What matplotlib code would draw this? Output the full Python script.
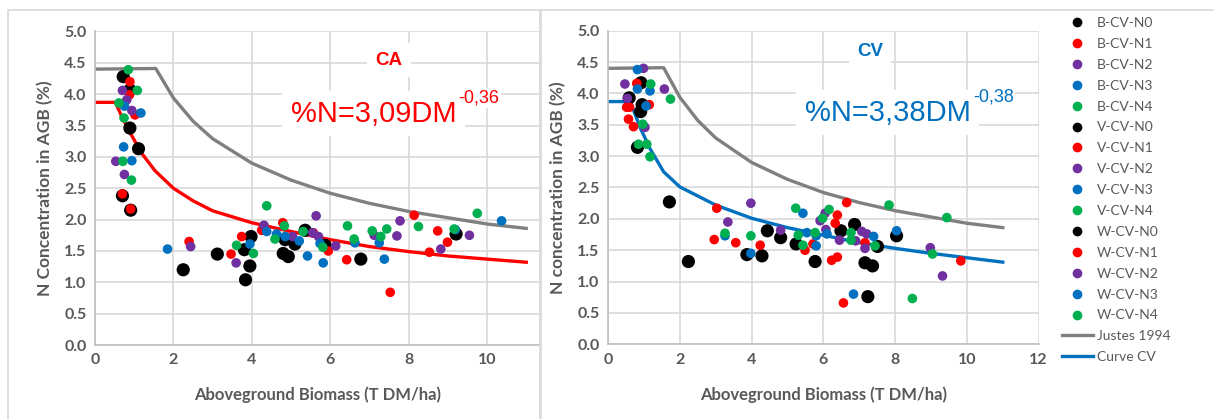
import numpy as np
import matplotlib.pyplot as plt
from matplotlib.lines import Line2D
from matplotlib.patches import Rectangle

# --- datos ---
n_levels = ['N0', 'N1', 'N2', 'N3', 'N4']
sites = ['B', 'V', 'W']
n_colors = ['#000000', '#FF0000', '#7030A0', '#0070C0', '#00B050']

# Panel CA
ca_n0_x = [0.72, 0.89, 0.89, 1.11, 0.70, 0.91, 2.25, 3.12, 3.81, 3.98, 3.95, 3.84, 4.80, 4.93, 5.10, 5.36, 5.87, 6.78, 9.21, 4.85]
ca_n0_y = [4.28, 4.07, 3.46, 3.13, 2.38, 2.15, 1.20, 1.45, 1.52, 1.73, 1.26, 1.04, 1.46, 1.41, 1.61, 1.83, 1.59, 1.37, 1.77, 1.68]
ca_n1_x = [0.89, 0.88, 1.02, 0.70, 0.91, 2.40, 3.47, 3.74, 4.25, 4.79, 5.57, 5.95, 6.42, 7.53, 8.14, 8.74, 8.99, 8.53]
ca_n1_y = [4.20, 3.99, 3.67, 2.41, 2.17, 1.65, 1.45, 1.73, 1.83, 1.95, 1.79, 1.50, 1.36, 0.84, 2.07, 1.82, 1.64, 1.48]
ca_n2_x = [0.70, 0.81, 0.94, 0.53, 0.75, 2.44, 3.60, 4.31, 5.04, 5.64, 5.55, 5.70, 6.14, 7.12, 7.70, 7.78, 8.82, 9.55]
ca_n2_y = [4.06, 3.91, 3.74, 2.93, 2.72, 1.57, 1.31, 1.91, 1.73, 2.06, 1.79, 1.73, 1.58, 1.75, 1.74, 1.98, 1.53, 1.75]
ca_n3_x = [0.75, 1.17, 0.73, 0.94, 1.85, 3.95, 4.38, 4.63, 4.85, 5.21, 5.42, 5.74, 5.82, 6.63, 7.25, 7.38, 9.19, 10.37]
ca_n3_y = [3.81, 3.70, 3.16, 2.94, 1.53, 1.61, 1.81, 1.77, 1.73, 1.66, 1.42, 1.62, 1.31, 1.63, 1.63, 1.37, 1.84, 1.98]
ca_n4_x = [0.85, 1.08, 0.61, 0.74, 0.71, 0.93, 3.61, 4.04, 4.38, 4.83, 4.59, 5.31, 5.81, 6.44, 6.61, 7.07, 7.29, 7.44, 8.25, 9.16, 9.75]
ca_n4_y = [4.39, 4.06, 3.86, 3.62, 2.93, 2.63, 1.59, 1.46, 2.22, 1.90, 1.69, 1.81, 1.56, 1.90, 1.69, 1.82, 1.73, 1.85, 1.89, 1.85, 2.10]

# Panel CV
cv_n0_x = [0.92, 0.59, 0.95, 0.91, 0.82, 1.71, 2.24, 3.87, 4.29, 4.44, 4.81, 5.24, 5.77, 6.49, 6.87, 7.51, 7.16, 7.37, 8.04, 7.24]
cv_n0_y = [4.17, 3.93, 3.82, 3.71, 3.14, 2.27, 1.32, 1.43, 1.41, 1.81, 1.70, 1.60, 1.32, 1.81, 1.91, 1.56, 1.30, 1.25, 1.73, 0.76]
cv_n1_x = [0.80, 0.52, 0.60, 1.15, 0.57, 0.71, 3.03, 2.96, 3.56, 4.24, 5.49, 5.71, 6.33, 6.39, 6.65, 6.23, 6.39, 6.56, 7.16, 9.83]
cv_n1_y = [4.16, 3.78, 3.78, 3.82, 3.59, 3.47, 2.17, 1.67, 1.62, 1.58, 1.50, 1.60, 1.93, 2.06, 2.26, 1.34, 1.39, 0.66, 1.62, 1.33]
cv_n2_x = [0.99, 0.47, 0.54, 1.57, 1.03, 3.34, 3.98, 4.81, 5.91, 6.05, 6.07, 6.45, 7.07, 7.21, 6.90, 7.16, 8.98, 9.32]
cv_n2_y = [4.40, 4.15, 3.92, 4.07, 3.46, 1.95, 2.25, 1.82, 1.97, 2.09, 1.83, 1.66, 1.80, 1.76, 1.65, 1.53, 1.54, 1.09]
cv_n3_x = [0.82, 0.82, 1.17, 1.06, 3.26, 3.98, 5.43, 5.54, 5.80, 5.80, 6.10, 6.84, 7.40, 8.04]
cv_n3_y = [4.38, 4.07, 4.04, 3.80, 1.73, 1.45, 2.09, 1.78, 1.73, 1.57, 1.76, 0.80, 1.72, 1.81]
cv_n4_x = [1.19, 1.74, 0.97, 0.85, 1.08, 1.17, 3.26, 3.98, 5.23, 5.30, 5.43, 5.77, 5.98, 6.16, 6.77, 6.77, 7.44, 7.83, 9.44, 9.04, 8.48]
cv_n4_y = [4.15, 3.91, 3.51, 3.19, 3.19, 2.99, 1.77, 1.73, 2.17, 1.74, 1.58, 1.78, 2.01, 2.15, 1.78, 1.66, 1.57, 2.22, 2.02, 1.44, 0.73]

# Curvas
justes_x = [0, 1.55, 2, 2.5, 3, 4, 5, 6, 7, 8, 9, 10, 11]
justes_y = [4.40, 4.41, 3.94, 3.57, 3.29, 2.90, 2.63, 2.42, 2.26, 2.13, 2.03, 1.93, 1.86]
ca_curve_x = [0, 0.52, 0.7, 0.9, 1.2, 1.53, 2, 2.5, 3, 4, 5, 6, 7, 8, 9, 10, 11]
ca_curve_y = [3.87, 3.87, 3.62, 3.38, 3.05, 2.78, 2.50, 2.30, 2.14, 1.95, 1.81, 1.68, 1.57, 1.49, 1.42, 1.37, 1.32]
cv_curve_x = [0, 0.62, 0.9, 1.17, 1.55, 2, 3, 4, 5, 6, 7, 8, 9, 10, 11]
cv_curve_y = [3.87, 3.87, 3.45, 3.12, 2.75, 2.51, 2.22, 2.01, 1.86, 1.74, 1.62, 1.53, 1.45, 1.38, 1.31]

ca_points = [(ca_n0_x, ca_n0_y), (ca_n1_x, ca_n1_y), (ca_n2_x, ca_n2_y), (ca_n3_x, ca_n3_y), (ca_n4_x, ca_n4_y)]
cv_points = [(cv_n0_x, cv_n0_y), (cv_n1_x, cv_n1_y), (cv_n2_x, cv_n2_y), (cv_n3_x, cv_n3_y), (cv_n4_x, cv_n4_y)]

gris_texto = '#595959'
fuente = 'Lato'

W, H = 1214, 419
fig = plt.figure(figsize=(W / 100, H / 100), dpi=100)

# marcos de los paneles
fig.add_artist(Rectangle((8 / W, -0.05), (540 - 8) / W, 1.05 - 10 / H, transform=fig.transFigure,
                         facecolor='none', edgecolor='#d9d9d9', lw=1.2))
fig.add_artist(Rectangle((541 / W, -0.05), 0.6, 1.05 - 10 / H, transform=fig.transFigure,
                         facecolor='none', edgecolor='#d9d9d9', lw=1.2))

ax1 = fig.add_axes([95 / W, (H - 345) / H, 445 / W, 313.5 / H])
ax2 = fig.add_axes([608 / W, (H - 344.3) / H, 430.7 / W, 313.6 / H])


def estilo(ax, xmax, xticks, ylabel):
    ax.set_xlim(0, xmax)
    ax.set_ylim(0, 5)
    ax.set_xticks(xticks)
    ax.set_yticks(np.arange(0, 5.01, 0.5))
    ax.set_yticklabels([f'{v:.1f}' for v in np.arange(0, 5.01, 0.5)])
    ax.grid(True, color='#d9d9d9', lw=1.2, zorder=0)
    ax.set_axisbelow(True)
    for s in ['top', 'right']:
        ax.spines[s].set_visible(False)
    for s in ['left', 'bottom']:
        ax.spines[s].set_color('#bfbfbf')
        ax.spines[s].set_linewidth(1.2)
    ax.tick_params(length=0, pad=6, labelcolor=gris_texto)
    for lab in ax.get_xticklabels() + ax.get_yticklabels():
        lab.set_fontfamily(fuente)
        lab.set_fontweight('bold')
        lab.set_fontsize(11.5)
    ax.set_xlabel('Aboveground Biomass (T DM/ha)', fontfamily=fuente, fontweight='bold',
                  fontsize=12, color=gris_texto, labelpad=14)
    ax.set_ylabel(ylabel, fontfamily=fuente, fontweight='bold', fontsize=12.5,
                  color=gris_texto, labelpad=8)


estilo(ax1, 11.35, [0, 2, 4, 6, 8, 10], 'N Concentration in AGB (%)')
estilo(ax2, 12, [0, 2, 4, 6, 8, 10, 12], 'N concentration in AGB (%)')

for ax, pts, curva_x, curva_y, col_curva in [(ax1, ca_points, ca_curve_x, ca_curve_y, '#FF0000'),
                                              (ax2, cv_points, cv_curve_x, cv_curve_y, '#0070C0')]:
    ax.plot(justes_x, justes_y, color='#808080', lw=2.4, zorder=2)
    ax.plot(curva_x, curva_y, color=col_curva, lw=2.4, zorder=2)
    for i, (xs, ys) in enumerate(pts):
        tam = 90 if i == 0 else 48
        ax.scatter(xs, ys, s=tam, color=n_colors[i], edgecolors='none', zorder=3)

# textos de las ecuaciones
caja = dict(facecolor='white', edgecolor='none', pad=6)
caja_exp = dict(facecolor='white', edgecolor='none', pad=1)
ax1.text(0.661, 0.909, 'CA', transform=ax1.transAxes, ha='center', va='center', color='#FF0000',
         fontfamily='Liberation Sans', fontweight='bold', fontsize=13.5, bbox=caja)
t1 = ax1.text(0.44, 0.737, '%N=3,09DM', transform=ax1.transAxes, ha='left', va='center',
              color='#FF0000', fontfamily='Liberation Sans', fontsize=21, bbox=caja, zorder=6)
ax1.annotate('-0,36', xy=(1, 0.78), xycoords=t1, xytext=(1.5, 0), textcoords='offset points',
             ha='left', va='bottom', color='#FF0000',
             fontfamily='Liberation Sans', fontsize=13, bbox=caja_exp, zorder=7)

ax2.text(0.608, 0.933, 'CV', transform=ax2.transAxes, ha='center', va='center', color='#0070C0',
         fontfamily='Liberation Sans', fontweight='bold', fontsize=13.5, bbox=caja)
t2 = ax2.text(0.457, 0.738, '%N=3,38DM', transform=ax2.transAxes, ha='left', va='center',
              color='#0070C0', fontfamily='Liberation Sans', fontsize=21, bbox=caja, zorder=6)
ax2.annotate('-0,38', xy=(1, 0.78), xycoords=t2, xytext=(1.5, 0), textcoords='offset points',
             ha='left', va='bottom', color='#0070C0',
             fontfamily='Liberation Sans', fontsize=13, bbox=caja_exp, zorder=7)

# leyenda
handles = []
labels = []
for site in sites:
    for i, nl in enumerate(n_levels):
        handles.append(Line2D([], [], ls='none', marker='o', ms=7, color=n_colors[i], mec='none'))
        labels.append(f'{site}-CV-{nl}')
handles.append(Line2D([], [], color='#808080', lw=2.4))
labels.append('Justes 1994')
handles.append(Line2D([], [], color='#0070C0', lw=2.4))
labels.append('Curve CV')

leg = fig.legend(handles, labels, loc='upper left', bbox_to_anchor=(1062 / W, 1 - 17 / H),
                 frameon=False, prop={'family': fuente, 'size': 10}, labelspacing=0.64,
                 handlelength=2.2, handletextpad=0.3, borderpad=0, borderaxespad=0)
for txt in leg.get_texts():
    txt.set_color(gris_texto)

fig.savefig('out.png', dpi=100)
